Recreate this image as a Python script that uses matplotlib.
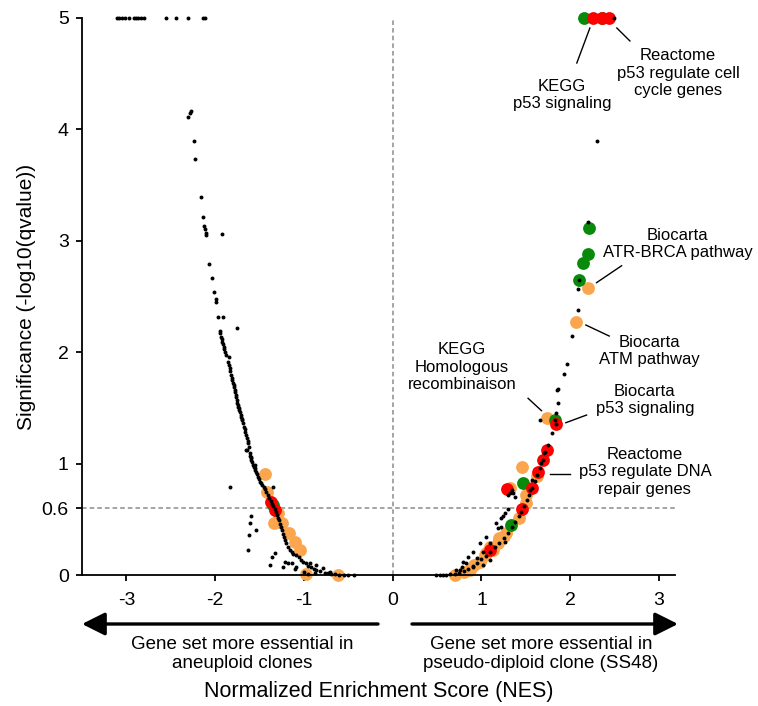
import matplotlib
matplotlib.use("Agg")
import matplotlib.pyplot as plt
from matplotlib import font_manager

names = {f.name for f in font_manager.fontManager.ttflist}
FONT = "Liberation Sans" if "Liberation Sans" in names else "DejaVu Sans"
plt.rcParams["font.family"] = [FONT, "DejaVu Sans"]

# ---------------- data ----------------
# black dots: all gene sets
black_x = [
    -3.108, -3.078, -3.047, -3.018, -2.973, -2.909, -2.890, -2.867, -2.833, -2.796,
    -2.559, -2.446, -2.308, -2.139, -2.112,
    -2.270, -2.281, -2.308, -2.240, -2.229, -2.157, -2.139, -2.127, -2.116, -2.108,
    -2.108, -2.066, -2.033, -2.010, -1.995, -1.988, -1.965, -1.928, -1.751, -1.913,
    -1.947, -1.940, -1.931, -1.925, -1.920, -1.912, -1.905, -1.899, -1.894, -1.875,
    -1.845, -1.857, -1.848, -1.838, -1.830, -1.819, -1.813, -1.807, -1.800, -1.793,
    -1.787, -1.781, -1.776, -1.770, -1.762, -1.755, -1.750, -1.744, -1.738, -1.733,
    -1.727, -1.721, -1.712, -1.704, -1.695, -1.695, -1.686, -1.676, -1.668, -1.661,
    -1.652, -1.642, -1.635, -1.627, -1.638, -1.620, -1.612, -1.606, -1.601, -1.593,
    -1.586, -1.575, -1.566, -1.556, -1.546, -1.537, -1.528, -1.519, -1.509, -1.499,
    -1.484, -1.469, -1.455, -1.440, -1.425, -1.406, -1.390, -1.375, -1.360, -1.345,
    -1.330, -1.315, -1.300, -1.290, -1.285, -1.274, -1.262, -1.250, -1.238, -1.225,
    -1.212, -1.198, -1.180, -1.161, -1.140, -1.120, -1.086, -1.060, -1.029, -1.005,
    -0.981, -0.950, -0.917, -0.890, -0.860, -0.815, -0.767, -0.730, -0.691, -0.650,
    -0.600, -0.550, -0.500, -0.440,
    -1.838, -1.349, -1.601, -1.604, -1.537, -1.620, -1.631, -1.330, -1.356, -1.379,
    -1.218, -1.180, -1.131, -1.237, -1.086, -0.936, -0.860, -0.786, -0.710, -0.879,
    -1.650, -1.593, -1.556, -1.105, -1.000, -0.950,
    2.492, 2.296, 2.195, 2.100, 2.082, 2.082, 2.015, 1.958, 1.931, 1.852,
    1.857, 1.864, 1.845, 1.657, 1.789, 1.826, 1.838,
    1.169, 1.225, 1.263, 1.094, 1.018, 0.944, 0.831, 0.775, 0.718, 0.493,
    0.530, 0.567, 0.605, 0.643, 1.356, 1.375, 1.545, 1.564, 1.676, 1.702,
    1.187, 1.056, 0.981, 0.905, 0.849, 0.793, 0.755, 1.094, 1.018, 0.905,
    0.700, 0.750, 0.800, 0.850, 0.900, 0.950, 1.000, 1.050, 1.100, 1.150,
    1.200, 1.250, 1.300, 1.340, 1.380, 1.420, 1.450, 1.480, 1.510, 1.540,
    1.570, 1.600, 1.630, 1.660, 1.690, 1.720, 1.745, 1.215, 1.245, 1.270,
    1.300, 1.340, 1.320, 1.300,
]
black_y = [
    5.0, 5.0, 5.0, 5.0, 5.0, 5.0, 5.0, 5.0, 5.0, 5.0,
    5.0, 5.0, 5.0, 5.0, 5.0,
    4.168, 4.145, 4.114, 3.893, 3.737, 3.390, 3.216, 3.133, 3.103, 3.073,
    3.049, 2.792, 2.666, 2.540, 2.480, 2.448, 2.313, 3.058, 2.217, 2.313,
    2.193, 2.170, 2.139, 2.115, 2.094, 2.070, 2.049, 2.025, 2.004, 1.975,
    1.960, 1.915, 1.885, 1.855, 1.830, 1.795, 1.772, 1.750, 1.728, 1.706,
    1.684, 1.661, 1.640, 1.616, 1.594, 1.571, 1.548, 1.526, 1.510, 1.496,
    1.480, 1.466, 1.440, 1.420, 1.403, 1.391, 1.360, 1.331, 1.308, 1.286,
    1.255, 1.227, 1.205, 1.182, 1.122, 1.150, 1.092, 1.070, 1.047, 1.032,
    1.017, 0.987, 0.972, 0.958, 0.942, 0.927, 0.905, 0.882, 0.860, 0.837,
    0.822, 0.808, 0.790, 0.770, 0.745, 0.718, 0.690, 0.665, 0.640, 0.615,
    0.590, 0.565, 0.540, 0.515, 0.490, 0.460, 0.430, 0.400, 0.370, 0.340,
    0.310, 0.284, 0.254, 0.224, 0.205, 0.190, 0.180, 0.160, 0.135, 0.120,
    0.105, 0.085, 0.069, 0.055, 0.045, 0.033, 0.021, 0.015, 0.009, 0.005,
    0.003, 0.002, 0.001, 0.000,
    0.787, 0.787, 0.530, 0.464, 0.404, 0.359, 0.224, 0.195, 0.164, 0.090,
    0.119, 0.105, 0.110, 0.075, 0.075, 0.105, 0.090, 0.060, 0.030, 0.015,
    1.122, 1.060, 0.990, 0.050, 0.030, 0.010,
    5.0, 3.899, 3.166, 2.648, 2.567, 2.379, 2.145, 1.891, 1.804, 1.661,
    1.667, 1.541, 1.451, 1.391, 1.272, 1.391, 1.353,
    0.464, 0.434, 0.299, 0.284, 0.209, 0.150, 0.105, 0.075, 0.045, 0.000,
    0.000, 0.000, 0.003, 0.009, 0.733, 0.703, 0.763, 0.853, 1.003, 1.092,
    0.419, 0.344, 0.284, 0.209, 0.164, 0.119, 0.045, 0.135, 0.090, 0.075,
    0.010, 0.020, 0.035, 0.055, 0.080, 0.110, 0.140, 0.175, 0.210, 0.250,
    0.290, 0.335, 0.380, 0.430, 0.480, 0.530, 0.570, 0.620, 0.670, 0.720,
    0.780, 0.840, 0.900, 0.960, 1.030, 1.100, 1.170, 0.510, 0.530, 0.560,
    0.590, 0.760, 0.740, 0.720,
]

# highlighted gene sets
orange_x = [-1.435, -1.417, -1.293, -1.338, -1.248, -1.172, -1.105, -1.048, -0.973, -0.617,
            1.733, 1.451, 1.620, 1.319, 1.507, 1.499, 1.424, 1.274, 1.187, 1.131,
            1.037, 0.981, 0.868, 0.699, 2.202, 2.060, 1.100, 1.050, 0.920, 0.800,
            1.200, 1.250]
orange_y = [0.907, 0.742, 0.554, 0.464, 0.464, 0.374, 0.299, 0.224, 0.009, 0.000,
            1.407, 0.972, 0.889, 0.778, 0.718, 0.644, 0.509, 0.374, 0.284, 0.224,
            0.180, 0.119, 0.045, 0.000, 2.574, 2.274, 0.250, 0.200, 0.090, 0.030,
            0.330, 0.350]
green_x = [-1.349, 1.826, 1.469, 1.338, 2.213, 2.195, 2.139, 2.100, 2.153, 2.360]
green_y = [0.628, 1.391, 0.823, 0.449, 3.112, 2.882, 2.803, 2.648, 5.0, 5.0]
red_x = [-1.368, -1.330, 1.838, 1.733, 1.695, 1.638, 1.564, 1.282, 1.462, 1.094,
         2.251, 2.353, 2.435]
red_y = [0.658, 0.583, 1.353, 1.122, 1.032, 0.927, 0.778, 0.769, 0.590, 0.224,
         5.0, 5.0, 5.0]

x_ticks = [-3, -2, -1, 0, 1, 2, 3]
y_ticks = [0, 0.6, 1, 2, 3, 4, 5]
y_tick_labels = ["0", "0.6", "1", "2", "3", "4", "5"]
q_threshold = 0.6

# ---------------- figure ----------------
W, H = 758, 706
fig = plt.figure(figsize=(W / 100, H / 100), dpi=100)
ax = fig.add_axes([82 / W, 1 - 575 / H, (675 - 82) / W, (575 - 18) / H])

ax.axvline(0, color="#8c8c8c", ls=(0, (3, 2)), lw=1.1, zorder=1)
ax.axhline(q_threshold, color="#8c8c8c", ls=(0, (3, 2)), lw=1.1, zorder=1)

big = 85
ax.scatter(orange_x, orange_y, s=big, color="#FBA64C", lw=0, zorder=2, clip_on=False)
ax.scatter(green_x, green_y, s=big, color="#0A8A0A", lw=0, zorder=3, clip_on=False)
ax.scatter(red_x, red_y, s=big, color="#FF0000", lw=0, zorder=4, clip_on=False)
ax.scatter(black_x, black_y, s=8, color="black", lw=0, zorder=5, clip_on=False)

ax.set_xlim(-3.5, 3.18)
ax.set_ylim(0, 5)
ax.set_xticks(x_ticks)
ax.set_xticklabels([str(t) for t in x_ticks])
ax.set_yticks(y_ticks)
ax.set_yticklabels(y_tick_labels)
for s in ["top", "right"]:
    ax.spines[s].set_visible(False)
for s in ["left", "bottom"]:
    ax.spines[s].set_linewidth(1.3)
ax.tick_params(direction="out", length=4.5, width=1.3, labelsize=14)
ax.tick_params(axis="x", pad=8)
ax.tick_params(axis="y", pad=5)

ax.set_ylabel("Significance (-log10(qvalue))", fontsize=15, labelpad=4)

# annotations: (text, text x, text y, line from, line to)
ann_fs = 12
notes = [
    ("KEGG\np53 signaling", 1.905, 4.309, (2.074, 4.596), (2.221, 4.910)),
    ("Reactome\np53 regulate cell\ncycle genes", 3.213, 4.506, (2.672, 4.794), (2.525, 4.910)),
    ("Biocarta\nATR-BRCA pathway", 3.207, 2.971, (2.578, 2.776), (2.296, 2.624)),
    ("Biocarta\nATM pathway", 2.892, 2.011, (2.439, 2.145), (2.176, 2.244)),
    ("KEGG\nHomologous\nrecombinaison", 0.778, 1.867, (1.525, 1.586), (1.676, 1.475)),
    ("Biocarta\np53 signaling", 2.841, 1.571, (2.184, 1.436), (1.950, 1.367)),
    ("Reactome\np53 regulate DNA\nrepair genes", 2.841, 0.925, (1.995, 0.904), (1.770, 0.904)),
]
for txt, tx, ty, p0, p1 in notes:
    ax.text(tx, ty, txt, ha="center", va="center", fontsize=ann_fs,
            linespacing=1.2, clip_on=False, zorder=6)
    ax.plot([p0[0], p1[0]], [p0[1], p1[1]], color="black", lw=1, clip_on=False, zorder=6)

# direction arrows under the axis (figure pixel coordinates)
ay = H - 624
arrow_kw = dict(arrowstyle="-|>,head_length=1.0,head_width=0.5", lw=2.4, color="black",
                shrinkA=0, shrinkB=0, mutation_scale=14)
ax.annotate("", xy=(82, ay), xycoords="figure pixels", xytext=(378, ay),
            textcoords="figure pixels", arrowprops=arrow_kw)
ax.annotate("", xy=(678, ay), xycoords="figure pixels", xytext=(412, ay),
            textcoords="figure pixels", arrowprops=arrow_kw)
fig.text(242 / W, 1 - 654 / H, "Gene set more essential in\naneuploid clones",
         ha="center", va="center", fontsize=13.5, linespacing=1.2)
fig.text(541 / W, 1 - 654 / H, "Gene set more essential in\npseudo-diploid clone (SS48)",
         ha="center", va="center", fontsize=13.5, linespacing=1.2)
fig.text(379 / W, 1 - 691 / H, "Normalized Enrichment Score (NES)",
         ha="center", va="center", fontsize=15.5)

fig.savefig("out.png", dpi=100)
